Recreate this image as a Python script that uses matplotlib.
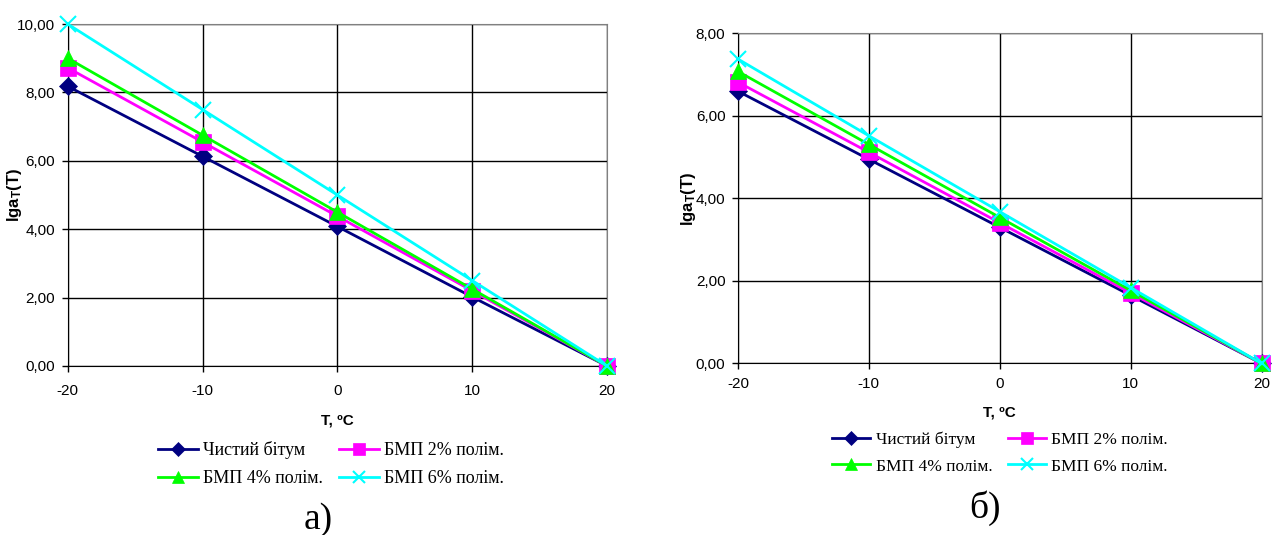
import matplotlib

matplotlib.use("Agg")
import matplotlib.pyplot as plt
from matplotlib.ticker import FuncFormatter

temps = [-20, -10, 0, 10, 20]
series_names = ["Чистий бітум", "БМП 2% полім.", "БМП 4% полім.", "БМП 6% полім."]

# panel а)
a_pure = [8.18, 6.13, 4.08, 2.02, 0.0]
a_bmp2 = [8.72, 6.55, 4.38, 2.2, 0.0]
a_bmp4 = [9.0, 6.75, 4.5, 2.25, 0.0]
a_bmp6 = [10.0, 7.5, 5.0, 2.5, 0.0]

# panel б)
b_pure = [6.6, 4.95, 3.3, 1.65, 0.0]
b_bmp2 = [6.82, 5.12, 3.41, 1.71, 0.0]
b_bmp4 = [7.08, 5.31, 3.54, 1.77, 0.0]
b_bmp6 = [7.38, 5.52, 3.68, 1.84, 0.0]

colors = ["#000080", "#FF00FF", "#00FF00", "#00FFFF"]
markers = ["D", "s", "^", "x"]
msizes = [9, 11, 12, 11]

SANS = "Liberation Sans"
SERIF = "Liberation Serif"
W, H = 1277, 535

plt.rcParams["axes.unicode_minus"] = False
plt.rcParams["mathtext.fontset"] = "custom"
plt.rcParams["mathtext.bf"] = "Liberation Sans:bold"
plt.rcParams["mathtext.rm"] = "Liberation Sans"
plt.rcParams["mathtext.it"] = "Liberation Sans:italic"


def draw_panel(fig, rect, data, ymax, xpad, ylab_x, xlab_y, leg_xy, leg_size, cap_xy):
    ax = fig.add_axes(rect)
    handles = []
    for vals, name, c, m, ms in zip(data, series_names, colors, markers, msizes):
        (h,) = ax.plot(temps, vals, color=c, lw=2.0, marker=m, ms=ms,
                       mew=1.5 if m == "x" else 0.5, mec=c, mfc=c, label=name,
                       clip_on=False, zorder=3)
        handles.append(h)
    ax.set_xlim(-20, 20)
    ax.set_ylim(0, ymax)
    ax.set_xticks(temps)
    ax.set_yticks([v * 2.0 for v in range(int(ymax / 2) + 1)])
    ax.yaxis.set_major_formatter(FuncFormatter(lambda v, p: f"{v:.2f}".replace(".", ",")))
    ax.grid(True, color="black", lw=1.0)
    ax.set_axisbelow(True)
    for s in ("top", "right"):
        ax.spines[s].set_color("#808080")
    for s in ("left", "bottom"):
        ax.spines[s].set_color("black")
    ax.tick_params(direction="out", length=4, width=1.0, labelsize=11)
    ax.tick_params(axis="x", pad=xpad)
    ax.tick_params(axis="y", pad=5)
    for lab in ax.get_xticklabels() + ax.get_yticklabels():
        lab.set_family(SANS)
    ax.set_xlabel("T, ºC", fontfamily=SANS, fontweight="bold", fontsize=11, va="center")
    ax.xaxis.set_label_coords(0.5, xlab_y)
    ax.set_ylabel(r"$\mathbf{lga_T(T)}$", fontsize=12, va="center")
    ax.yaxis.set_label_coords(ylab_x, 0.5)

    # row-wise legend order like the original
    order = [0, 2, 1, 3]
    ax.legend([handles[i] for i in order], [series_names[i] for i in order],
              loc="center", bbox_to_anchor=(leg_xy[0] / W, 1 - leg_xy[1] / H),
              bbox_transform=fig.transFigure, ncol=2, frameon=False,
              prop={"family": SERIF, "size": leg_size}, handlelength=2.2,
              handletextpad=0.3, columnspacing=0.9, labelspacing=0.6, borderpad=0,
              markerscale=0.75)
    fig.text(cap_xy[0] / W, 1 - cap_xy[1] / H, cap_xy[2], ha="center", va="center",
             fontfamily=SERIF, fontsize=27)
    return ax


fig = plt.figure(figsize=(W / 100, H / 100), dpi=100)
draw_panel(fig, [0.0530, 0.3159, 0.4223, 0.6392],
           [a_pure, a_bmp2, a_bmp4, a_bmp6], 10.0, 9, -0.098, -0.158,
           (331, 464), 13, (318, 520, "а)"))
draw_panel(fig, [0.5779, 0.3206, 0.4100, 0.6168],
           [b_pure, b_bmp2, b_bmp4, b_bmp6], 8.0, 6, -0.094, -0.15,
           (1000, 453), 12.5, (985, 508, "б)"))

fig.savefig("out.png", dpi=100)
